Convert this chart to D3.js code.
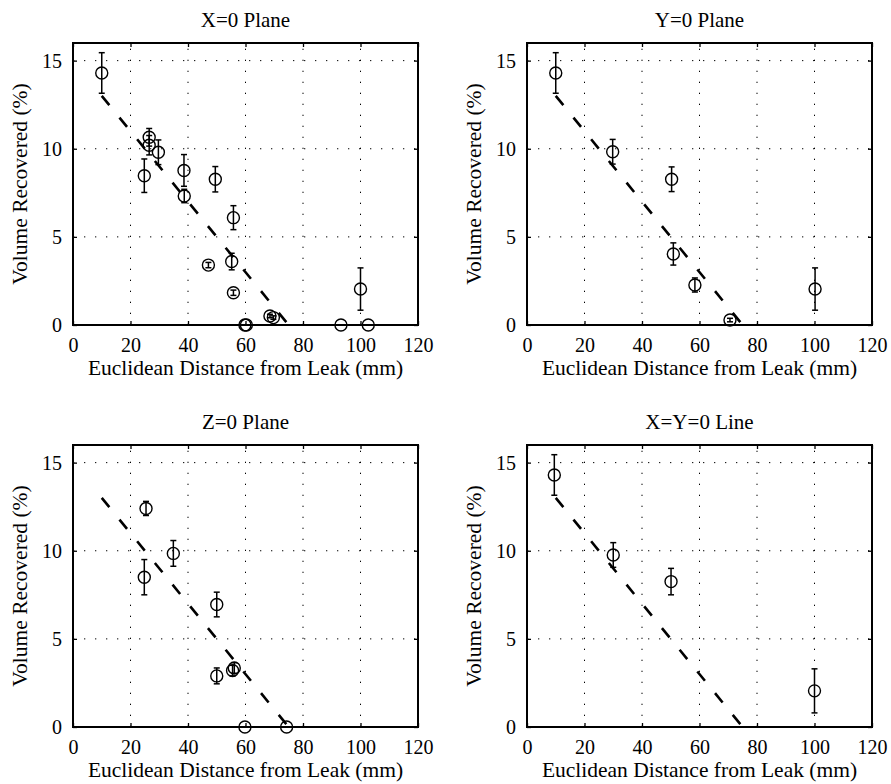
<!DOCTYPE html>
<html><head><meta charset="utf-8">
<script src="https://cdn.jsdelivr.net/npm/d3@7"></script>
</head><body style="margin:0;background:#fff"><svg id="c" width="891" height="784"></svg>
<script>
const titles = ["X=0 Plane", "Y=0 Plane", "Z=0 Plane", "X=Y=0 Line"];
const xTicks = [0, 20, 40, 60, 80, 100, 120];
const yTicks = [0, 5, 10, 15];
const xLabel = "Euclidean Distance from Leak (mm)";
const yLabel = "Volume Recovered (%)";
const fitX = [10, 75];
const fitY = [13, 0];

const xPlaneX = [10, 26.5, 26.5, 29.7, 24.8, 38.6, 38.7, 49.5, 55.8, 47.1, 55.2, 55.8, 59.8, 60.3, 68.5, 69.7, 100, 93.2, 102.7];
const xPlaneY = [14.3, 10.65, 10.2, 9.8, 8.47, 8.77, 7.32, 8.27, 6.09, 3.4, 3.6, 1.83, 0, 0, 0.51, 0.42, 2.04, 0, 0];
const xPlaneE = [1.15, 0.5, 0.55, 0.7, 0.95, 0.9, 0.38, 0.72, 0.68, 0.15, 0.47, 0.15, 0, 0, 0.1, 0.1, 1.2, 0, 0];

const yPlaneX = [10, 29.8, 50.3, 50.9, 58.4, 70.6, 100.2];
const yPlaneY = [14.3, 9.83, 8.27, 4.03, 2.27, 0.28, 2.04];
const yPlaneE = [1.15, 0.7, 0.7, 0.63, 0.4, 0.1, 1.2];

const zPlaneX = [25.4, 34.9, 24.8, 50, 50, 55.5, 56.1, 59.8, 74.3];
const zPlaneY = [12.4, 9.85, 8.5, 6.95, 2.9, 3.2, 3.35, 0, 0];
const zPlaneE = [0.4, 0.73, 1.0, 0.7, 0.45, 0.3, 0.3, 0, 0];

const xyLineX = [9.5, 30, 50.1, 100];
const xyLineY = [14.3, 9.76, 8.25, 2.05];
const xyLineE = [1.15, 0.7, 0.75, 1.25];

const series = [[xPlaneX, xPlaneY, xPlaneE], [yPlaneX, yPlaneY, yPlaneE], [zPlaneX, zPlaneY, zPlaneE], [xyLineX, xyLineY, xyLineE]];

const FONT = "'Liberation Serif', 'Times New Roman', serif";
const svg = d3.select("#c");
const W = 345, H = 282;
const origins = [[73, 43], [527, 43], [73, 445], [527, 445]];

series.forEach((s, i) => {
  const [ox, oy] = origins[i];
  const g = svg.append("g").attr("transform", `translate(${ox},${oy})`);
  const x = d3.scaleLinear().domain([0, 120]).range([0, W]);
  const y = d3.scaleLinear().domain([0, 16]).range([H, 0]);

  // grid
  g.selectAll(".gx").data(xTicks.slice(1, -1)).join("line")
    .attr("x1", d => x(d)).attr("x2", d => x(d)).attr("y1", H).attr("y2", 0)
    .attr("stroke", "#000").attr("stroke-width", 1).attr("stroke-dasharray", "1.3,9.7");
  g.selectAll(".gy").data(yTicks.slice(1)).join("line")
    .attr("y1", d => y(d)).attr("y2", d => y(d)).attr("x1", 0).attr("x2", W)
    .attr("stroke", "#000").attr("stroke-width", 1).attr("stroke-dasharray", "1.3,9.7");

  // axes
  const ax = d3.axisBottom(x).tickValues(xTicks).tickSize(-4).tickPadding(13);
  const ay = d3.axisLeft(y).tickValues(yTicks).tickSize(-4).tickPadding(11);
  const gx = g.append("g").attr("transform", `translate(0,${H})`).call(ax);
  const gy = g.append("g").call(ay);
  g.append("g").call(d3.axisTop(x).tickValues(xTicks).tickSize(-4).tickFormat(""));
  g.append("g").attr("transform", `translate(${W},0)`).call(d3.axisRight(y).tickValues(yTicks).tickSize(-4).tickFormat(""));
  g.selectAll(".domain").remove();
  g.selectAll(".tick line").attr("stroke", "#000").attr("stroke-width", 1.3);
  [gx, gy].forEach(a => a.selectAll("text").style("font-family", FONT).style("font-size", "20px").attr("fill", "#000"));
  gx.selectAll("text").attr("dy", "0.71em");
  g.append("rect").attr("x", 0).attr("y", 0).attr("width", W).attr("height", H)
    .attr("fill", "none").attr("stroke", "#000").attr("stroke-width", 2);

  // fit line
  const line = d3.line().x(d => x(d[0])).y(d => y(d[1]));
  g.append("path").datum(fitX.map((v, k) => [v, fitY[k]])).attr("d", line)
    .attr("fill", "none").attr("stroke", "#000").attr("stroke-width", 2.6)
    .attr("stroke-dasharray", "12,16");

  // data
  const pts = s[0].map((v, k) => ({ x: v, y: s[1][k], e: s[2][k] }));
  const pg = g.selectAll(".p").data(pts).join("g");
  pg.filter(d => d.e > 0).append("line")
    .attr("x1", d => x(d.x)).attr("x2", d => x(d.x))
    .attr("y1", d => y(d.y - d.e)).attr("y2", d => y(d.y + d.e))
    .attr("stroke", "#000").attr("stroke-width", 1.5);
  pg.filter(d => d.e > 0).selectAll(".cap").data(d => [d.y - d.e, d.y + d.e].map(v => ({ x: d.x, v }))).join("line")
    .attr("x1", d => x(d.x) - 3).attr("x2", d => x(d.x) + 3)
    .attr("y1", d => y(d.v)).attr("y2", d => y(d.v))
    .attr("stroke", "#000").attr("stroke-width", 1.5);
  pg.append("circle").attr("cx", d => x(d.x)).attr("cy", d => y(d.y)).attr("r", 6)
    .attr("fill", "none").attr("stroke", "#000").attr("stroke-width", 1.4);

  // labels
  g.append("text").attr("x", W / 2).attr("y", -16).attr("text-anchor", "middle")
    .style("font-family", FONT).style("font-size", "21px").text(titles[i]);
  g.append("text").attr("x", W / 2).attr("y", H + 50).attr("text-anchor", "middle")
    .style("font-family", FONT).style("font-size", "21.5px").text(xLabel);
  g.append("text").attr("transform", `translate(-46,${H / 2}) rotate(-90)`).attr("text-anchor", "middle")
    .style("font-family", FONT).style("font-size", "21.5px").text(yLabel);
});
</script></body></html>
